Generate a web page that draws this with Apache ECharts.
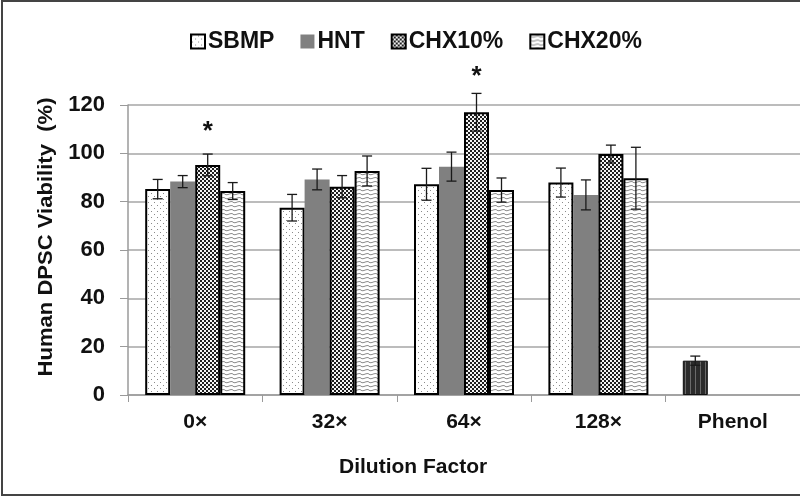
<!DOCTYPE html>
<html>
<head>
<meta charset="utf-8">
<script src="https://cdn.jsdelivr.net/npm/echarts@6/dist/echarts.min.js"></script>
<style>
  html, body { margin: 0; padding: 0; background: #fff; }
  #chart { width: 800px; height: 497px; }
</style>
</head>
<body>
<div id="chart"></div>
<script>
// data
const categories = ['0×', '32×', '64×', '128×', 'Phenol'];
const seriesNames = ['SBMP', 'HNT', 'CHX10%', 'CHX20%'];
const sbmp = [85.2, 77.5, 87.2, 87.9, 14.2];
const hnt = [88.3, 89.2, 94.5, 82.8, '-'];
const chx10 = [95.2, 86.2, 117, 99.7, '-'];
const chx20 = [84.4, 92.7, 84.8, 89.7, '-'];
const sbmpErr = [4, 5.5, 6.6, 6, 1.9];
const hntErr = [2.5, 4.3, 6, 6.2, 0];
const chx10Err = [4.5, 4.6, 7.8, 3.7, 0];
const chx20Err = [3.5, 6.2, 5, 12.8, 0];
// asterisks above CHX10% bars: [category index, y value]
const stars = [[0, 108.9], [2, 131.6]];
const yTicks = [0, 20, 40, 60, 80, 100, 120];

const BAR_W = 25;

function pattern(w, h, draw) {
  const c = document.createElement('canvas');
  c.width = w; c.height = h;
  draw(c.getContext('2d'));
  return { image: c, repeat: 'repeat' };
}

const dotFill = pattern(6, 6, g => {
  g.fillStyle = '#fff'; g.fillRect(0, 0, 6, 6);
  g.fillStyle = '#8a8a8a';
  g.fillRect(1, 1, 1, 1);
  g.fillRect(4, 4, 1, 1);
});
const checkFill = pattern(4, 4, g => {
  g.fillStyle = '#f4f4f4'; g.fillRect(0, 0, 4, 4);
  g.fillStyle = '#1e1e1e';
  g.fillRect(0, 0, 2, 2);
  g.fillRect(2, 2, 2, 2);
});
const waveFill = pattern(8, 4, g => {
  g.fillStyle = '#fff'; g.fillRect(0, 0, 8, 4);
  g.strokeStyle = '#8c8c8c'; g.lineWidth = 1;
  g.beginPath();
  g.moveTo(0, 1.5);
  g.quadraticCurveTo(2, 3.5, 4, 2.5);
  g.quadraticCurveTo(6, 1.5, 8, 1.5);
  g.stroke();
});
const phenolFill = pattern(5, 1, g => {
  g.fillStyle = '#2b2b2b'; g.fillRect(0, 0, 5, 1);
  g.fillStyle = '#6a6a6a'; g.fillRect(0, 0, 1, 1);
});

const means = [sbmp, hnt, chx10, chx20];
const errs = [sbmpErr, hntErr, chx10Err, chx20Err];
const fills = [dotFill, '#808080', checkFill, waveFill];

const font = 'Liberation Sans, Arial, sans-serif';

const barSeries = seriesNames.map((name, i) => ({
  name,
  type: 'bar',
  barWidth: BAR_W,
  barGap: '0%',
  data: means[i].map((v, k) => {
    if (i === 0 && k === 4) {
      return { value: v, itemStyle: { color: phenolFill, borderColor: '#111', borderWidth: 1 } };
    }
    return v;
  }),
  itemStyle: i === 1
    ? { color: '#808080' }
    : { color: fills[i], borderColor: '#000', borderWidth: 2 },
  z: 2
}));

const errSeries = seriesNames.map((name, i) => ({
  type: 'custom',
  clip: false,
  z: 5,
  silent: true,
  data: means[i].map((v, k) => v === '-' || errs[i][k] === 0 ? null : [k, v, errs[i][k]]).filter(d => d),
  encode: { x: 0, y: 1 },
  renderItem: (params, api) => {
    const k = api.value(0), v = api.value(1), e = api.value(2);
    const off = (i - 1.5) * BAR_W;
    const top = api.coord([k, v + e]);
    const bot = api.coord([k, v - e]);
    const x = top[0] + off;
    const cap = 5;
    const style = { stroke: '#1a1a1a', lineWidth: 1.3 };
    return {
      type: 'group',
      children: [
        { type: 'line', shape: { x1: x, y1: top[1], x2: x, y2: bot[1] }, style },
        { type: 'line', shape: { x1: x - cap, y1: top[1], x2: x + cap, y2: top[1] }, style },
        { type: 'line', shape: { x1: x - cap, y1: bot[1], x2: x + cap, y2: bot[1] }, style }
      ]
    };
  }
}));

const starSeries = {
  type: 'custom',
  clip: false,
  z: 6,
  silent: true,
  data: stars,
  renderItem: (params, api) => {
    const p = api.coord([api.value(0), api.value(1)]);
    return {
      type: 'text',
      x: p[0] + 0.5 * BAR_W,
      y: p[1],
      style: { text: '*', font: 'bold 26px ' + font, fill: '#111', align: 'center', verticalAlign: 'middle' }
    };
  }
};

const chart = echarts.init(document.getElementById('chart'));
chart.setOption({
  animation: false,
  backgroundColor: '#fff',
  graphic: [
    {
      type: 'rect',
      shape: { x: 2, y: 1, width: 806, height: 494 },
      style: { fill: 'none', stroke: '#444', lineWidth: 2 },
      z: 100
    },
    {
      type: 'text',
      left: 339,
      top: 457,
      style: { text: 'Dilution Factor', font: 'bold 21px ' + font, fill: '#111' }
    },
    {
      type: 'text',
      x: 46,
      y: 237,
      rotation: Math.PI / 2,
      scaleX: 1.05,
      style: {
        text: 'Human DPSC Viability  (%)',
        font: 'bold 21px ' + font,
        fill: '#111',
        align: 'center',
        verticalAlign: 'middle'
      }
    }
  ],
  legend: {
    data: seriesNames,
    top: 25,
    left: 185,
    itemWidth: 14,
    itemHeight: 14,
    itemGap: 26,
    icon: 'rect',
    textStyle: { fontFamily: font, fontWeight: 'bold', fontSize: 23, color: '#111', padding: [0, 0, 0, -2] }
  },
  grid: { left: 128, right: -3, top: 105, bottom: 102 },
  xAxis: {
    type: 'category',
    data: categories,
    axisLine: { lineStyle: { color: '#9a9a9a', width: 1.5 } },
    axisTick: { show: true, length: 7, lineStyle: { color: '#9a9a9a' } },
    axisLabel: { fontFamily: font, fontWeight: 'bold', fontSize: 21, color: '#111', margin: 17 }
  },
  yAxis: {
    type: 'value',
    min: 0,
    max: 120,
    interval: 20,
    axisLine: { show: true, lineStyle: { color: '#9a9a9a', width: 1.5 } },
    axisTick: { show: true, length: 8, lineStyle: { color: '#9a9a9a' } },
    splitLine: { lineStyle: { color: '#a6a6a6', width: 1.5 } },
    axisLabel: {
      fontFamily: font, fontWeight: 'bold', fontSize: 22, color: '#111', margin: 23,
      formatter: v => yTicks.includes(v) ? String(v) : ''
    }
  },
  series: [...barSeries, ...errSeries, starSeries]
});
</script>
</body>
</html>
